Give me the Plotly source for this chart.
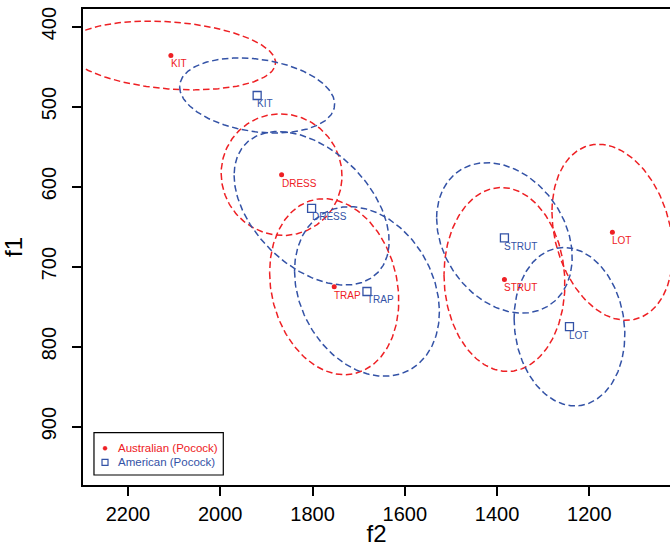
import numpy as np
import plotly.graph_objects as go

vowels = ["KIT", "DRESS", "TRAP", "STRUT", "LOT"]

# Australian (Pocock)
aus_f2 = [2107, 1867, 1753, 1384, 1150]
aus_f1 = [436, 585, 725, 716, 657]
aus_sd_f2 = [227, 131, 140, 131, 131]
aus_sd_f1 = [43, 76, 110, 115, 110]
aus_rho = [-0.21, -0.02, -0.16, -0.05, -0.23]

# American (Pocock)
ame_f2 = [1920, 1802, 1682, 1384, 1243]
ame_f1 = [486, 627, 731, 664, 775]
ame_sd_f2 = [168, 168, 157, 147, 120]
ame_sd_f1 = [47, 96, 106, 94, 99]
ame_rho = [-0.23, -0.43, -0.24, -0.26, -0.10]

x_ticks = [2200, 2000, 1800, 1600, 1400, 1200]
y_ticks = [400, 500, 600, 700, 800, 900]

legend_labels = ["Australian (Pocock)", "American (Pocock)"]

RED = "#EE2024"
BLUE = "#3352A6"
FONT = "Liberation Sans, Arial, sans-serif"

fig = go.Figure()

t = np.linspace(0, 2 * np.pi, 241)


def add_ellipses(cx, cy, sx, sy, rho, color):
    for x0, y0, a, b, r in zip(cx, cy, sx, sy, rho):
        ex = x0 + a * np.cos(t)
        ey = y0 + b * (r * np.cos(t) + np.sqrt(1 - r * r) * np.sin(t))
        fig.add_trace(go.Scatter(x=ex, y=ey, mode="lines",
                                 line=dict(color=color, width=1.5, dash="6.5px,3.5px"),
                                 showlegend=False, hoverinfo="skip"))


add_ellipses(aus_f2, aus_f1, aus_sd_f2, aus_sd_f1, aus_rho, RED)
add_ellipses(ame_f2, ame_f1, ame_sd_f2, ame_sd_f1, ame_rho, BLUE)

fig.add_trace(go.Scatter(x=aus_f2, y=aus_f1, mode="markers", name=legend_labels[0],
                         showlegend=False,
                         marker=dict(symbol="circle", size=5, color=RED)))
fig.add_trace(go.Scatter(x=ame_f2, y=ame_f1, mode="markers", name=legend_labels[1],
                         showlegend=False,
                         marker=dict(symbol="square-open", size=8, color=BLUE,
                                     line=dict(width=1.3, color=BLUE))))

for xs, ys, col in [(aus_f2, aus_f1, RED), (ame_f2, ame_f1, BLUE)]:
    for v, x, y in zip(vowels, xs, ys):
        fig.add_annotation(x=x, y=y, text=v, showarrow=False, xanchor="left", yanchor="top",
                           xshift=-2, yshift=-1, font=dict(family=FONT, size=10, color=col))

# legend box (drawn like the R legend); plot area is 587 x 476 px
fig.add_shape(type="rect", xref="paper", yref="paper", x0=0.0187, x1=0.2390,
              y0=0.0210, y1=0.1099, line=dict(color="black", width=1.2),
              fillcolor="white", layer="above")
fig.add_shape(type="circle", xref="paper", yref="paper", xsizemode="pixel", ysizemode="pixel",
              xanchor=0.0375, yanchor=0.0771, x0=-2, x1=2, y0=-2, y1=2,
              fillcolor=RED, line=dict(color=RED, width=0.5), layer="above")
fig.add_shape(type="rect", xref="paper", yref="paper", xsizemode="pixel", ysizemode="pixel",
              xanchor=0.0375, yanchor=0.0477, x0=-3, x1=3, y0=-3, y1=3,
              fillcolor="rgba(0,0,0,0)", line=dict(color=BLUE, width=1.2), layer="above")
for lab, yy, col in [(legend_labels[0], 0.0771, RED), (legend_labels[1], 0.0477, BLUE)]:
    fig.add_annotation(xref="paper", yref="paper", x=0.0562, y=yy, text=lab, showarrow=False,
                       xanchor="left", yanchor="middle",
                       font=dict(family=FONT, size=11.5, color=col))

fig.update_layout(
    width=670, height=547,
    margin=dict(l=83, r=0, t=9, b=62),
    plot_bgcolor="white", paper_bgcolor="white",
    font=dict(family=FONT, size=20, color="black"),
    showlegend=False,
    xaxis=dict(range=[2297.5, 1025.1], tickvals=x_ticks, ticks="outside", ticklen=9,
               tickwidth=1.5, tickcolor="black", showline=True, linecolor="black",
               linewidth=1.5, mirror=True, showgrid=False, zeroline=False,
               ticklabelstandoff=1, ticklabeloverflow="allow",
               title=dict(text="f2", standoff=4), tickfont=dict(size=20)),
    yaxis=dict(range=[972.9, 377.9], tickvals=y_ticks, ticks="outside", ticklen=9,
               tickwidth=1.5, tickcolor="black", showline=True, linecolor="black",
               linewidth=1.5, showgrid=False, zeroline=False, tickangle=-90,
               ticklabelstandoff=8, ticklabeloverflow="allow",
               title=dict(text="f1", standoff=16), tickfont=dict(size=20)),
)

fig.write_html(
    "out.html",
    config={"displayModeBar": False},
    post_script="document.body.style.margin='0px';document.body.style.overflow='hidden';",
)
